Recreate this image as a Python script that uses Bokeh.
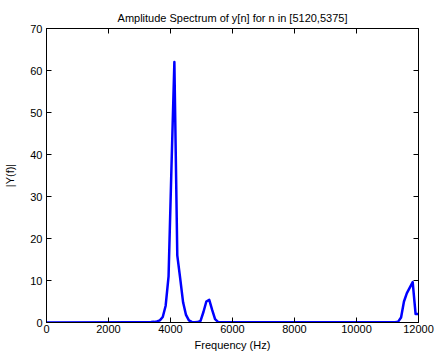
from bokeh.plotting import figure
from bokeh.models import Range1d, LinearAxis, FixedTicker
from bokeh.embed import file_html
from bokeh.resources import INLINE

# Frequency bins (Hz) and amplitude |Y(f)|
freq = [0.0, 2812.5, 3375.0, 3468.75, 3562.5, 3656.25, 3750.0, 3843.75, 3937.5,
        4031.25, 4125.0, 4218.75, 4312.5, 4406.25, 4500.0, 4593.75, 4687.5,
        4781.25, 4875.0, 4968.75, 5062.5, 5156.25, 5250.0, 5343.75, 5437.5,
        5531.25, 5625.0, 11250.0, 11343.75, 11437.5, 11531.25, 11625.0,
        11718.75, 11812.5, 11906.25, 12000.0]
amp = [0.02, 0.05, 0.1, 0.15, 0.25, 0.5, 1.3, 4.0, 11.0,
       37.0, 62.0, 16.0, 10.5, 4.8, 1.8, 0.5, 0.15,
       0.05, 0.1, 0.4, 2.5, 5.0, 5.4, 3.0, 0.8,
       0.15, 0.05, 0.05, 0.2, 1.2, 5.0, 7.0,
       8.3, 9.6, 2.0, 2.0]

x_ticks = [0, 2000, 4000, 6000, 8000, 10000, 12000]
y_ticks = [0, 10, 20, 30, 40, 50, 60, 70]

title_text = "Amplitude Spectrum of y[n] for n in [5120,5375]"
x_label = "Frequency (Hz)"
y_label = "|Y(f)|"

FONT = "Liberation Sans"

p = figure(width=435, height=353, output_backend="svg", toolbar_location=None,
           x_range=Range1d(0, 12000), y_range=Range1d(0, 70),
           min_border_left=46, min_border_right=17, min_border_top=28,
           min_border_bottom=31, x_axis_location=None, y_axis_location=None,
           title=title_text)

p.title.align = "center"
p.title.text_font = FONT
p.title.text_font_size = "11px"
p.title.text_font_style = "normal"
p.title.text_color = "black"
p.title.standoff = 10

p.xgrid.visible = False
p.ygrid.visible = False
p.outline_line_color = "black"
p.outline_line_width = 1
p.background_fill_color = "white"
p.border_fill_color = "white"


def style_axis(ax, ticks, labels=True):
    ax.ticker = FixedTicker(ticks=ticks)
    ax.major_tick_in = 5
    ax.major_tick_out = 0
    ax.minor_tick_line_color = None
    ax.axis_line_color = "black"
    ax.major_tick_line_color = "black"
    ax.major_label_text_font = FONT
    ax.major_label_text_font_size = "11px"
    ax.major_label_text_color = "black"
    ax.axis_label_text_font = FONT
    ax.axis_label_text_font_size = "11px"
    ax.axis_label_text_font_style = "normal"
    ax.axis_label_text_color = "black"
    if not labels:
        ax.major_label_text_font_size = "0px"
        ax.major_label_text_color = None


xb = LinearAxis(axis_label=x_label)
style_axis(xb, x_ticks)
xb.major_label_standoff = 2
xb.axis_label_standoff = 3
p.add_layout(xb, "below")

yl = LinearAxis(axis_label=y_label)
style_axis(yl, y_ticks)
yl.major_label_standoff = 4
yl.axis_label_standoff = 11
p.add_layout(yl, "left")

xt = LinearAxis()
style_axis(xt, x_ticks, labels=False)
xt.major_label_standoff = 0
p.add_layout(xt, "above")

yr = LinearAxis()
style_axis(yr, y_ticks, labels=False)
yr.major_label_standoff = 0
p.add_layout(yr, "right")

p.line(freq, amp, line_color="#0000ff", line_width=2.5, line_join="round")

open("out.html", "w").write(file_html(p, INLINE))
